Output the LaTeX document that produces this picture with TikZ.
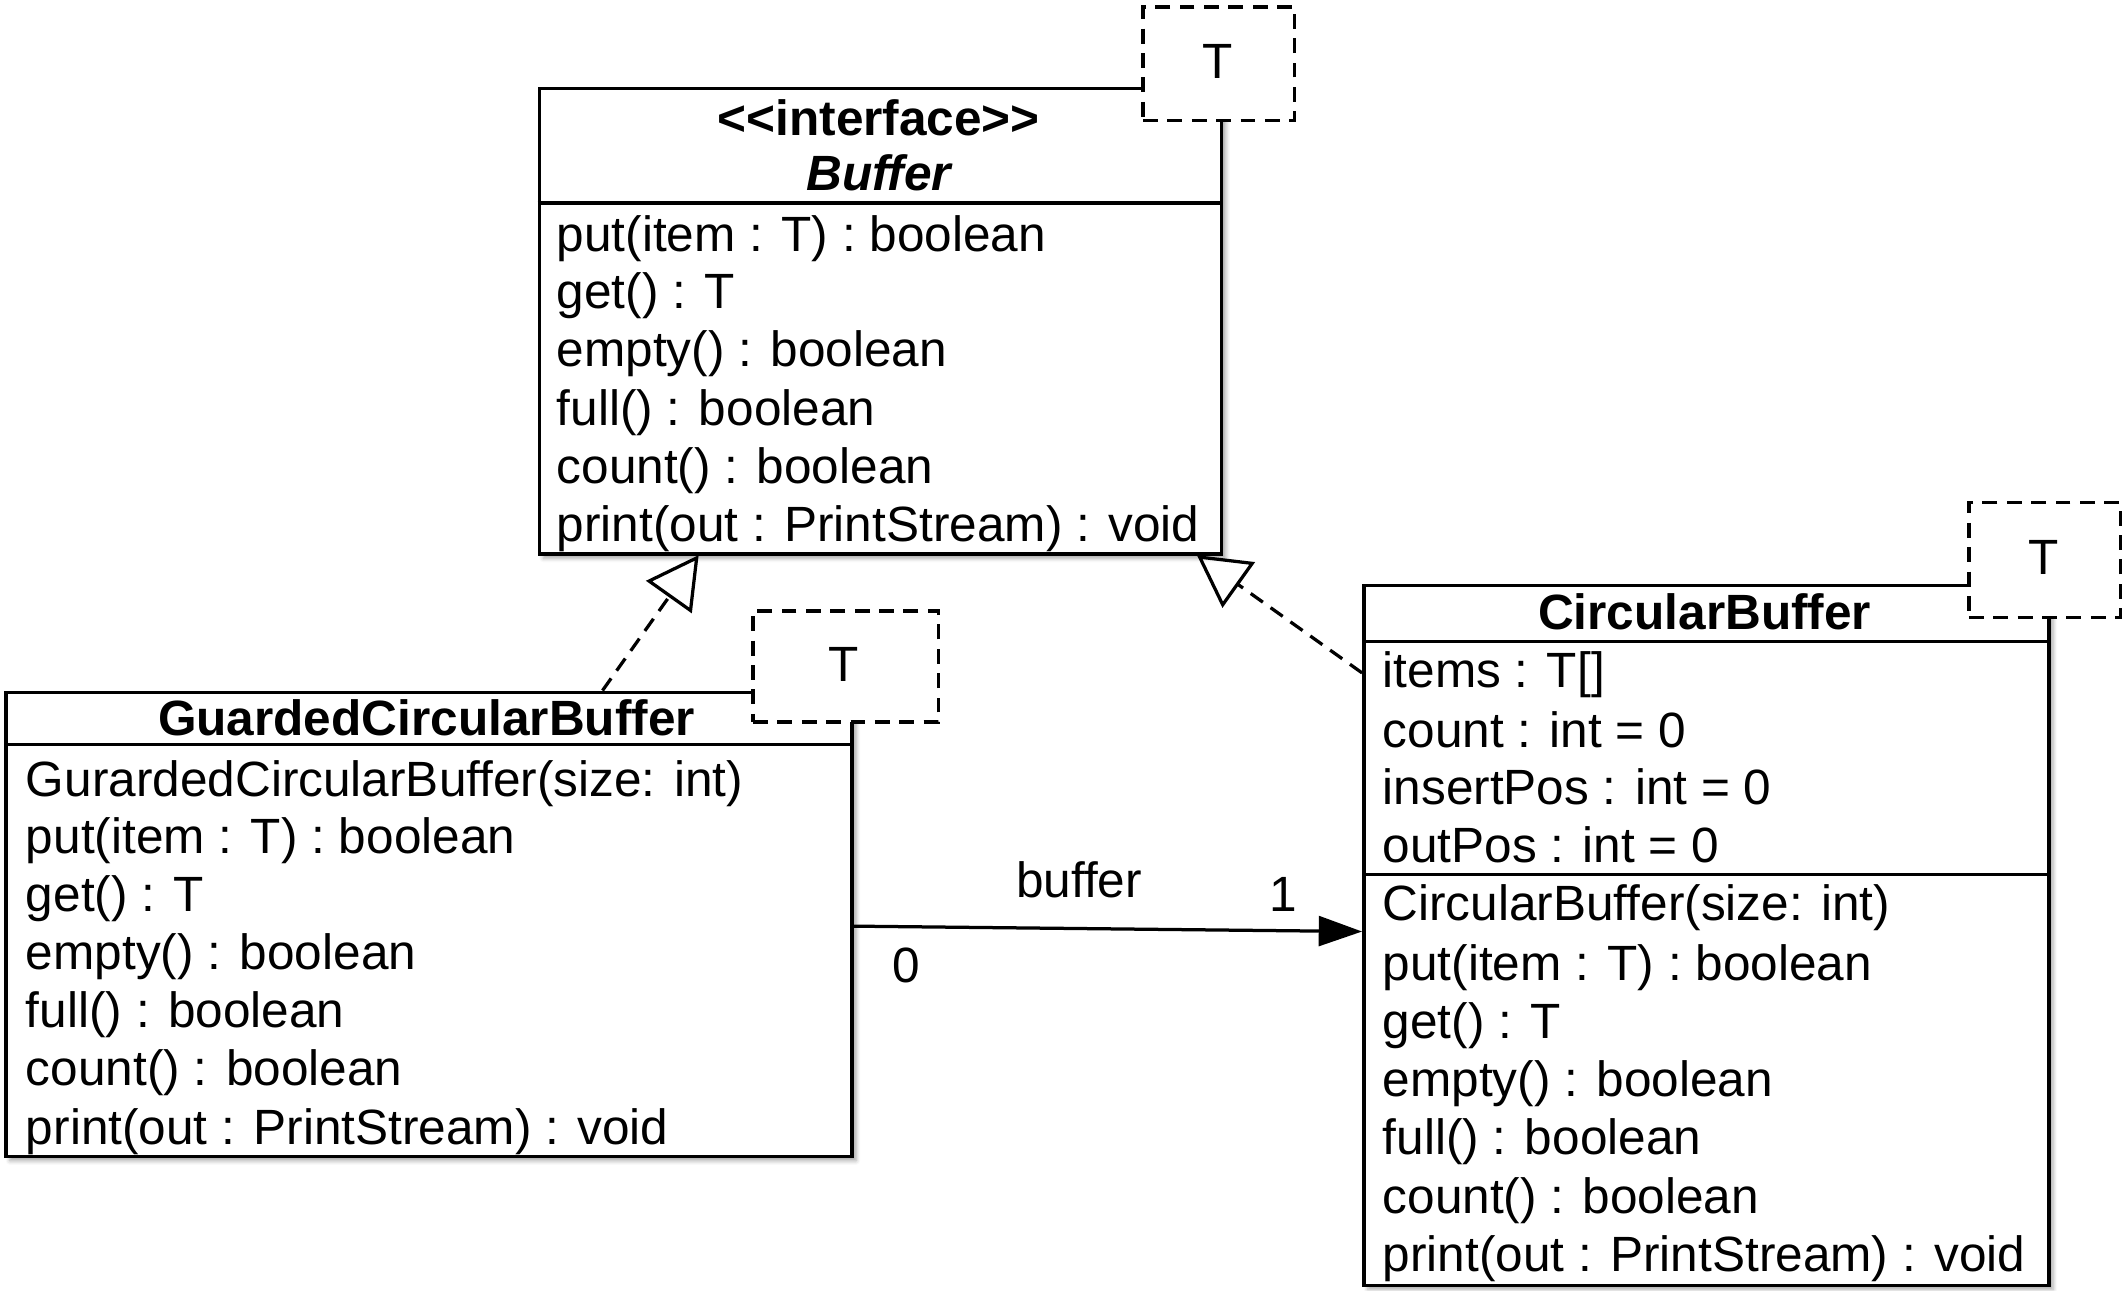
\documentclass[tikz,border=0pt]{standalone}
\usepackage{fontspec}
\setmainfont{Liberation Sans}
\usetikzlibrary{arrows.meta,shadows.blur}
\begin{document}
\begin{tikzpicture}[x=1pt,y=-1pt,
  cls/.style={draw=black, line width=2.6pt, fill=white, inner sep=0pt, anchor=north west,
    blur shadow={shadow xshift=3pt, shadow yshift=-3pt, shadow blur radius=3pt, shadow opacity=35}},
  tmpl/.style={draw=black, line width=2.4pt, fill=white, dash pattern=on 11pt off 7pt, inner sep=0pt, anchor=north west},
  sep/.style={line width=2.4pt},
  txt/.style={anchor=base west, inner sep=0pt, font=\fontsize{36.6}{44}\selectfont},
  ctxt/.style={anchor=base, inner sep=0pt, font=\fontsize{36.6}{44}\selectfont},
  ttl/.style={anchor=base, inner sep=0pt, font=\fontsize{36.6}{44}\selectfont\bfseries},
  realize/.style={line width=2.4pt, dash pattern=on 11pt off 7pt,
    -{Triangle[open, length=38pt, width=41pt, line width=2.4pt]}},
  assoc/.style={line width=2.4pt, -{Triangle[length=32pt, width=22pt]}}
]
\useasboundingbox (0,0) rectangle (1568,953);

% ---------- Buffer ----------
\node[cls, minimum width=504pt, minimum height=344pt] (buf) at (397,64) {};
\draw[sep] (397,150) -- (901,150);
\node[tmpl, minimum width=112pt, minimum height=84pt] (buft) at (843,4) {};
\node[ctxt] (buftl) at (899,58) {T};
\node[ttl] (bufst) at (649,100) {{<}{<}interface{>}{>}};
\node[ttl, font=\fontsize{36.6}{44}\selectfont\bfseries\itshape] (bufn) at (649,141) {Buffer};
\node[txt] (b1) at (411,186) {put(item : T) : boolean};
\node[txt] (b2) at (411,228) {get() : T};
\node[txt] (b3) at (411,271) {empty() : boolean};
\node[txt] (b4) at (411,314) {full() : boolean};
\node[txt] (b5) at (411,357) {count() : boolean};
\node[txt] (b6) at (411,400) {print(out : PrintStream) : void};

% ---------- GuardedCircularBuffer ----------
\node[cls, minimum width=625pt, minimum height=343pt] (gcb) at (3,510) {};
\draw[sep] (3,550) -- (628,550);
\node[tmpl, minimum width=137pt, minimum height=82pt] (gcbt) at (555,450) {};
\node[ctxt] (gcbtl) at (623,503) {T};
\node[ttl] (gcbn) at (315,543) {GuardedCircularBuffer};
\node[txt] (g1) at (19,588) {GurardedCircularBuffer(size: int)};
\node[txt] (g2) at (19,630) {put(item : T) : boolean};
\node[txt] (g3) at (19,673) {get() : T};
\node[txt] (g4) at (19,716) {empty() : boolean};
\node[txt] (g5) at (19,759) {full() : boolean};
\node[txt] (g6) at (19,802) {count() : boolean};
\node[txt] (g7) at (19,845) {print(out : PrintStream) : void};

% ---------- CircularBuffer ----------
\node[cls, minimum width=506pt, minimum height=517pt] (cb) at (1006,431) {};
\draw[sep] (1006,474) -- (1512,474);
\draw[sep] (1006,646) -- (1512,646);
\node[tmpl, minimum width=112pt, minimum height=85pt] (cbt) at (1453,370) {};
\node[ctxt] (cbtl) at (1509,424) {T};
\node[ttl] (cbn) at (1259,465) {CircularBuffer};
\node[txt] (c1) at (1021,508) {items : T[]};
\node[txt] (c2) at (1021,552) {count : int = 0};
\node[txt] (c3) at (1021,594) {insertPos : int = 0};
\node[txt] (c4) at (1021,637) {outPos : int = 0};
\node[txt] (c5) at (1021,680) {CircularBuffer(size: int)};
\node[txt] (c6) at (1021,724) {put(item : T) : boolean};
\node[txt] (c7) at (1021,767) {get() : T};
\node[txt] (c8) at (1021,810) {empty() : boolean};
\node[txt] (c9) at (1021,853) {full() : boolean};
\node[txt] (c10) at (1021,896) {count() : boolean};
\node[txt] (c11) at (1021,939) {print(out : PrintStream) : void};

% ---------- connectors ----------
\coordinate (gtop) at (445,510);
\coordinate (bbot1) at (516,410);
\coordinate (bbot2) at (884,410);
\coordinate (cleft1) at (1006,497);
\coordinate (gright) at (628,684);
\coordinate (cleft2) at (1006,688);
\draw[realize] (gtop) -- (bbot1);
\draw[realize] (cleft1) -- (bbot2);
\draw[assoc] (gright) -- (cleft2);
\node[ctxt] (lbuf) at (797,663) {buffer};
\node[ctxt] (lone) at (948,673) {1};
\node[ctxt] (lzero) at (669,726) {0};
\end{tikzpicture}
\end{document}
